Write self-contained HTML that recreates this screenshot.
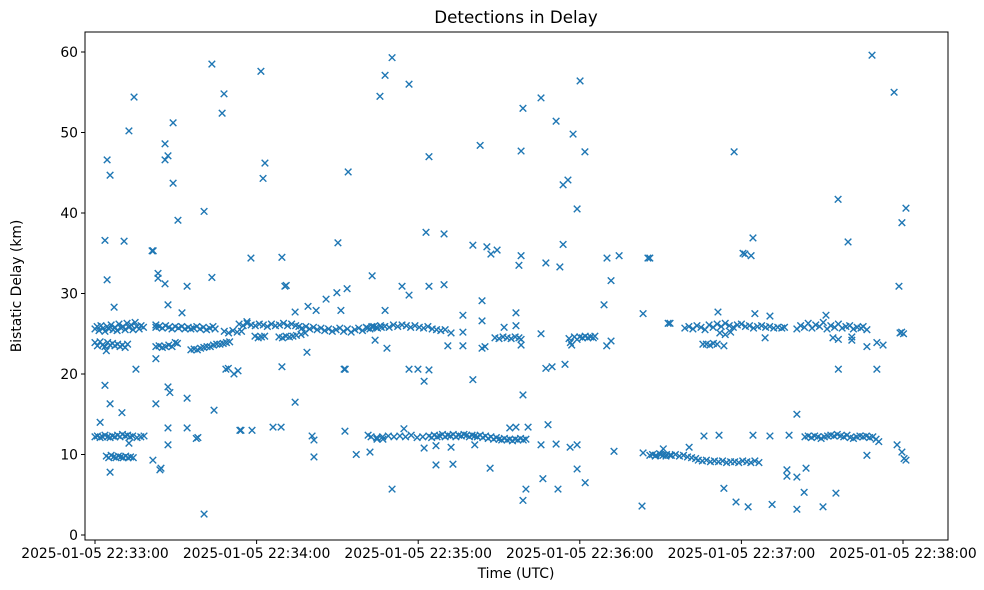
<!DOCTYPE html>
<html><head><meta charset="utf-8"><style>
html,body{margin:0;padding:0;background:#fff;}
svg{display:block;font-family:"DejaVu Sans","Liberation Sans",sans-serif;}
</style></head><body>
<svg id="chart" width="984" height="590" viewBox="0 0 984 590" xmlns="http://www.w3.org/2000/svg">
<rect x="0" y="0" width="984" height="590" fill="#fff"/>
<text x="516" y="23" text-anchor="middle" font-size="16.7" fill="#000">Detections in Delay</text>
<g id="marks"></g>
<g id="axes"></g>
<rect x="85" y="32" width="863" height="508" fill="none" stroke="#000" stroke-width="1"/>
<text x="516" y="578" text-anchor="middle" font-size="13.9" fill="#000">Time (UTC)</text>
<text x="0" y="0" transform="translate(21,286) rotate(-90)" text-anchor="middle" font-size="13.9" fill="#000">Bistatic Delay (km)</text>
</svg>
<script>
// seconds since 22:33:00
const xTickSeconds = [0, 60, 120, 180, 240, 300];
const xTickLabels = ["2025-01-05 22:33:00","2025-01-05 22:34:00","2025-01-05 22:35:00","2025-01-05 22:36:00","2025-01-05 22:37:00","2025-01-05 22:38:00"];
const yTickValues = [0, 10, 20, 30, 40, 50, 60];
const yTickLabels = ["0","10","20","30","40","50","60"];
// detections: [seconds, bistatic delay km]
const outliers = [
[43.4,58.5],[61.6,57.6],[14.5,54.4],[47.9,54.8],[12.6,50.2],[29.0,51.2],[47.2,52.4],[26.0,48.6],[4.5,46.6],[26.0,46.6],[27.1,47.1],
[5.6,44.7],[29.0,43.7],[63.1,46.2],[62.4,44.3],[94.0,45.1],[30.8,39.1],[40.5,40.2],[3.7,36.6],[10.8,36.5],[21.2,35.3],[21.6,35.3],
[90.2,36.3],[4.5,31.7],[23.4,32.5],[23.4,31.9],[26.0,31.2],[34.2,30.9],[43.4,32.0],[57.9,34.4],[69.4,34.5],[70.5,30.9],[71.0,31.0],
[102.9,32.2],[7.1,28.3],[27.1,28.6],[32.3,27.6],[89.8,30.1],[93.6,30.6],[85.8,29.3],[79.1,28.4],[82.1,27.9],[91.3,27.9],[74.3,27.7],
[56.4,26.5],[22.6,26.1],[78.7,22.7],[22.6,21.9],[15.2,20.6],[48.6,20.6],[53.1,20.4],[51.6,20.0],[49.5,20.7],[69.4,20.9],[92.5,20.6],[92.9,20.6],
[3.7,18.6],[5.6,16.3],[10.0,15.2],[27.1,18.4],[27.8,17.7],[22.6,16.3],[34.2,17.0],[44.2,15.5],[74.3,16.5],[1.9,14.0],[12.6,11.4],
[27.1,13.3],[34.2,13.3],[27.1,11.2],[37.6,12.0],[38.2,12.1],[53.8,13.0],[54.2,13.0],[58.3,13.0],[66.1,13.4],[69.1,13.4],[80.6,12.3],[81.3,11.8],
[92.8,12.9],[101.4,12.4],[104.7,11.9],[106.9,11.9],[5.6,7.8],[21.5,9.3],[24.1,8.1],[24.5,8.3],[81.3,9.7],[97.0,10.0],[102.1,10.3],[40.5,2.6],
[110.3,59.3],[107.7,57.1],[105.8,54.5],[116.6,56.0],[124.0,47.0],[143.0,48.4],[158.9,53.0],[158.2,47.7],[165.6,54.3],[171.2,51.4],[177.5,49.8],
[180.1,56.4],[181.9,47.6],[173.8,43.5],[175.6,44.1],[179.0,40.5],[122.9,37.6],[129.6,37.4],[140.3,36.0],[145.5,35.8],[147.0,34.9],[149.3,35.4],
[158.2,34.7],[157.4,33.5],[167.4,33.8],[172.6,33.3],[173.8,36.1],[190.1,34.4],[194.6,34.7],[205.3,34.4],[191.6,31.6],[189.0,28.6],[203.5,27.5],
[212.8,26.3],[114.0,30.9],[116.6,29.8],[124.0,30.9],[129.6,31.1],[107.7,27.9],[136.6,27.3],[143.7,29.1],[143.7,26.6],[151.9,25.8],[156.3,26.0],
[156.3,27.6],[165.6,25.0],[158.2,24.3],[158.2,23.6],[136.6,25.2],[136.6,23.5],[131.0,23.5],[143.7,23.2],[144.8,23.4],[132.2,25.1],[190.0,23.5],
[191.6,24.1],[108.4,23.2],[104.0,24.2],[116.6,20.6],[119.9,20.6],[124.0,20.5],[122.2,19.1],[140.3,19.3],[167.4,20.7],[169.7,20.9],[174.5,21.2],
[158.9,17.4],[114.7,13.2],[122.2,10.8],[126.6,11.1],[132.2,10.9],[141.0,11.2],[126.6,8.7],[132.9,8.8],[146.7,8.3],[154.0,13.3],[156.3,13.4],
[160.8,13.4],[168.2,13.7],[165.6,11.2],[171.2,11.3],[176.4,10.9],[179.0,11.2],[179.0,8.2],[182.0,6.5],[166.3,7.0],[171.9,5.7],[158.9,4.3],
[160.0,5.7],[110.3,5.7],[192.7,10.4],[203.5,10.2],[203.1,3.6],[211.0,10.7],
[288.5,59.6],[296.7,55.0],[237.3,47.6],[275.9,41.7],[301.1,40.6],[299.6,38.8],[279.6,36.4],[244.3,36.9],[240.6,35.0],[241.3,34.9],[243.6,34.7],
[206.0,34.4],[298.5,30.9],[213.5,26.3],[231.3,27.7],[245.0,27.5],[250.6,27.2],[233.5,23.5],[248.8,24.5],[271.4,27.3],[274.0,24.5],[276.0,24.3],
[281.0,24.2],[281.0,24.6],[286.6,25.5],[286.6,23.4],[290.3,23.9],[292.6,23.6],[298.9,25.1],[299.5,25.2],[300.2,25.0],[276.0,20.6],[290.3,20.6],
[260.6,15.0],[220.6,10.9],[226.1,12.3],[231.7,12.4],[244.3,12.4],[250.6,12.3],[257.7,12.4],[286.6,9.9],[297.8,11.2],[299.6,10.3],[301.1,9.3],[300.4,9.5],
[256.9,8.1],[256.9,7.3],[260.6,7.2],[264.0,8.3],[233.5,5.8],[238.0,4.1],[242.5,3.5],[251.4,3.8],[260.6,3.2],[263.3,5.3],[270.3,3.5],[275.1,5.2]
];
const bandPoints = [
[0.0,25.6],[0.8,25.9],[1.5,25.4],[2.2,26.0],[3.0,25.7],[3.7,25.3],[4.5,25.9],[5.2,25.6],[6.0,26.1],[6.7,25.5],[7.4,25.8],[8.2,25.4],[8.9,26.2],
[9.7,25.7],[10.4,25.9],[11.2,25.5],[11.9,26.3],[12.6,25.8],[13.4,26.1],[14.1,25.5],[14.9,26.4],[15.6,25.9],[16.4,25.6],[17.1,26.0],[18.0,25.8],
[0.0,23.9],[0.9,23.5],[1.9,24.0],[2.8,23.6],[3.7,23.4],[4.7,23.9],[5.6,23.6],[6.5,23.8],[7.4,23.5],[8.4,23.7],[9.3,23.4],[10.2,23.6],[11.2,23.3],[12.1,23.7],[4.2,22.9],
[0.0,12.2],[0.9,12.3],[1.9,12.1],[2.8,12.2],[3.7,12.4],[4.7,12.2],[5.6,12.1],[6.5,12.3],[7.4,12.2],[8.4,12.4],[9.3,12.2],[10.2,12.5],[11.2,12.3],
[12.1,12.4],[13.0,12.2],[14.0,12.3],[15.6,12.1],[17.0,12.2],[18.2,12.3],
[4.2,9.8],[5.1,9.6],[6.0,9.9],[6.9,9.7],[7.8,9.6],[8.7,9.8],[9.6,9.7],[10.5,9.6],[11.4,9.8],[12.3,9.6],[13.2,9.7],[14.2,9.6],
[22.6,25.8],[23.8,25.9],[25.0,25.7],[26.2,26.0],[27.4,25.8],[28.6,25.6],[29.8,25.9],[31.0,25.7],[32.2,25.9],[33.4,25.6],[34.6,25.8],[35.6,25.6],
[22.6,23.4],[23.8,23.5],[25.0,23.3],[26.2,23.4],[27.4,23.6],[28.6,23.4],[29.8,23.9],[30.6,23.8],
[36.6,25.7],[37.8,25.9],[39.0,25.6],[40.2,25.8],[41.4,25.5],[42.6,25.7],[43.8,25.9],[44.6,25.6],
[35.6,23.0],[36.8,23.1],[38.0,23.0],[39.2,23.2],[40.4,23.3],[41.6,23.4],[42.8,23.4],[44.0,23.6],[45.2,23.7],[46.4,23.7],[47.6,23.8],[48.8,23.9],[50.0,24.0],
[48.0,25.3],[49.6,25.1],[51.2,25.4],[52.8,25.2],[54.4,25.3],
[53.5,26.2],[55.0,26.0],[56.5,26.3],[58.0,26.1],[59.5,26.0],[61.0,26.2],[62.5,26.1],[64.0,25.9],[65.5,26.2],[67.0,26.0],[68.5,26.1],[70.0,26.3],
[71.5,26.0],[73.0,26.2],[74.5,26.0],[75.7,25.9],
[59.4,24.7],[60.6,24.5],[61.8,24.6],[63.0,24.7],[68.3,24.6],[69.6,24.5],[70.9,24.7],[72.2,24.6],[73.5,24.7],[74.8,24.8],[76.5,24.9],[78.0,25.1],
[76.9,25.7],[78.3,25.9],[79.7,25.6],[81.1,25.8],[82.5,25.5],[83.9,25.7],[85.3,25.4],[86.7,25.6],[88.1,25.3],[89.5,25.5],[90.9,25.7],[92.3,25.3],
[93.7,25.6],[95.1,25.2],[96.5,25.5],[97.9,25.7],[99.3,25.4],[100.7,25.8],[102.1,25.6],[103.5,25.9],[104.9,25.7],[106.3,25.8],
[101.2,25.7],[102.8,25.9],[104.4,25.8],[106.0,26.0],[107.6,25.9],[109.2,25.8],[110.8,26.1],[112.4,25.9],[114.0,26.1],[115.6,26.0],[117.2,25.8],
[118.8,26.0],[120.4,25.8],[122.0,25.7],[123.6,25.9],[125.2,25.6],[126.8,25.5],[128.4,25.4],[130.0,25.5],
[102.5,12.2],[104.6,12.1],[106.8,12.2],[108.9,12.3],[111.0,12.2],[113.2,12.3],[115.3,12.2],[117.4,12.4],[119.6,12.1],[121.7,12.2],
[124.0,12.3],[125.0,12.1],[126.0,12.4],[127.0,12.2],[128.0,12.3],[129.0,12.5],[130.0,12.2],[131.0,12.4],[132.0,12.3],[133.0,12.5],[134.0,12.2],
[135.0,12.4],[136.0,12.3],[137.0,12.5],[138.0,12.4],[139.0,12.2],[140.0,12.4],[141.0,12.3],[142.0,12.2],[143.0,12.4],[144.0,12.1],[145.0,12.3],
[146.0,12.0],[147.0,12.2],[148.0,11.9],[149.0,12.1],[150.0,11.9],[151.0,11.8],[152.0,12.0],[153.0,11.8],[154.0,11.9],[155.0,11.7],[156.0,11.9],
[157.0,11.8],[158.0,12.0],[159.0,11.8],[160.0,11.9],
[148.5,24.5],[150.0,24.4],[151.5,24.6],[153.0,24.5],[154.5,24.4],[156.0,24.6],[157.4,24.5],
[176.0,24.4],[177.0,23.6],[178.0,24.6],[179.0,24.3],[180.0,24.6],[181.0,24.5],[182.0,24.7],[183.0,24.5],[184.0,24.6],[185.0,24.5],[185.6,24.7],[176.5,23.9],
[207.0,10.0],[208.3,9.9],[209.6,10.1],[210.9,9.9],[212.2,10.0],[213.5,9.9],
[206.0,9.9],[208.0,9.8],[210.0,10.0],[212.0,9.8],[214.0,9.9],[215.5,10.0],[217.0,9.8],[218.5,9.9],[220.0,9.7],[221.5,9.6],[223.0,9.5],
[224.0,9.3],[225.5,9.2],[227.0,9.3],[228.5,9.1],[230.0,9.2],[231.5,9.1],[233.0,9.2],[234.5,9.0],[236.0,9.1],[237.5,9.1],[239.0,9.0],[240.5,9.2],
[242.0,9.1],[243.5,9.0],[245.0,9.2],[246.5,9.0],
[219.0,25.7],[220.5,25.9],[222.0,25.6],[223.5,26.0],[225.0,25.8],[226.5,25.5],[228.0,26.1],[229.5,25.8],[231.0,26.2],[232.5,25.9],[234.0,26.3],
[235.5,26.0],[237.0,25.8],[238.5,26.1],[240.0,26.2],[241.5,25.9],[243.0,26.0],[244.5,25.7],[246.0,25.9],[247.5,26.0],[249.0,25.8],[250.5,25.9],
[252.0,25.7],[253.5,25.8],[255.0,25.7],[256.0,25.8],
[225.7,23.7],[227.0,23.7],[228.3,23.6],[229.6,23.8],[231.0,23.7],[232.0,25.1],[234.0,24.9],[236.0,25.2],
[260.6,25.6],[262.0,26.0],[263.4,25.8],[264.8,26.3],[266.2,25.7],[267.6,26.1],[269.0,25.9],[270.4,26.4],[271.8,25.6],[273.2,26.0],[274.6,25.8],
[276.0,26.2],[277.4,25.7],[278.8,25.9],[280.2,26.0],[281.6,25.6],[283.0,25.8],[284.4,25.7],[285.2,25.9],
[263.6,12.2],[264.8,12.3],[266.0,12.1],[267.2,12.3],[268.4,12.2],[269.6,12.0],[270.8,12.2],[272.0,12.3],[273.2,12.4],[274.4,12.3],[275.6,12.5],
[276.8,12.3],[278.0,12.2],[279.2,12.4],[280.4,12.1],[281.6,12.0],[282.8,12.2],[284.0,12.3],[285.2,12.2],[286.4,12.3],[287.6,12.1],[288.8,12.2],
[290.0,11.9],[291.0,11.6]
];
const X0 = 95, XPX_PER_S = 808/300, Y0 = 535, YPX_PER_KM = 483/60;
function xScale(t){ return X0 + t*XPX_PER_S; }
function yScale(d){ return Y0 - d*YPX_PER_KM; }
const NS = "http://www.w3.org/2000/svg";
const marks = document.getElementById('marks');
const all = outliers.concat(bandPoints);
all.forEach(function(p){
  const cx = xScale(p[0]), cy = yScale(p[1]), r = 3.3;
  const path = document.createElementNS(NS,'path');
  path.setAttribute('d','M'+(cx-r)+' '+(cy-r)+'L'+(cx+r)+' '+(cy+r)+'M'+(cx-r)+' '+(cy+r)+'L'+(cx+r)+' '+(cy-r));
  path.setAttribute('stroke','#1f77b4');
  path.setAttribute('stroke-width','1.4');
  path.setAttribute('fill','none');
  
  
  marks.appendChild(path);
});
const axes = document.getElementById('axes');
xTickSeconds.forEach(function(s,i){
  const x = xScale(s);
  const ln = document.createElementNS(NS,'line');
  ln.setAttribute('x1',x); ln.setAttribute('x2',x); ln.setAttribute('y1',540); ln.setAttribute('y2',544);
  ln.setAttribute('stroke','#000');
  
  
  axes.appendChild(ln);
  const tx = document.createElementNS(NS,'text');
  tx.setAttribute('x',x); tx.setAttribute('y',558); tx.setAttribute('text-anchor','middle'); tx.setAttribute('font-size','13.9');
  tx.textContent = xTickLabels[i];
  
  
  axes.appendChild(tx);
});
yTickValues.forEach(function(v,i){
  const y = yScale(v);
  const ln = document.createElementNS(NS,'line');
  ln.setAttribute('x1',81); ln.setAttribute('x2',85); ln.setAttribute('y1',y); ln.setAttribute('y2',y);
  ln.setAttribute('stroke','#000');
  
  
  axes.appendChild(ln);
  const tx = document.createElementNS(NS,'text');
  tx.setAttribute('x',78); tx.setAttribute('y',y+5); tx.setAttribute('text-anchor','end'); tx.setAttribute('font-size','13.9');
  tx.textContent = yTickLabels[i];
  
  
  axes.appendChild(tx);
});
</script>
</body></html>
